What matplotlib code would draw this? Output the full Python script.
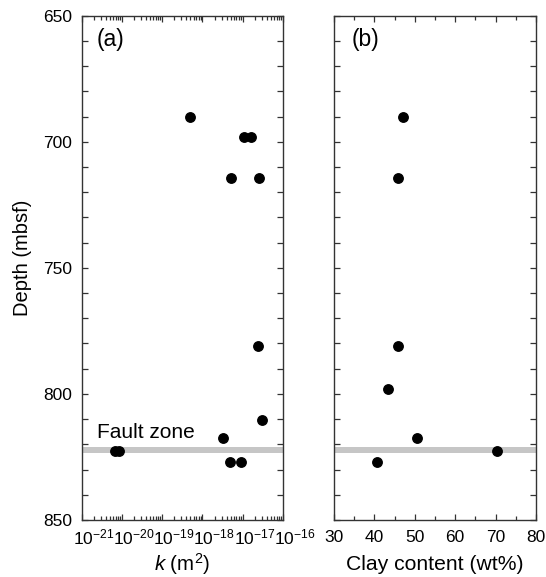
import matplotlib
matplotlib.use("Agg")
import matplotlib.pyplot as plt
from matplotlib.ticker import MultipleLocator, LogLocator, NullFormatter, FixedLocator, FixedFormatter
from matplotlib.transforms import ScaledTranslation

plt.rcParams['font.family'] = ['Liberation Sans', 'DejaVu Sans']
plt.rcParams['mathtext.fontset'] = 'custom'
plt.rcParams['mathtext.rm'] = 'Liberation Sans'
plt.rcParams['mathtext.it'] = 'Liberation Sans:italic'
plt.rcParams['mathtext.bf'] = 'Liberation Sans:bold'

# Panel (a): permeability vs depth
k_values = [5e-19, 1.05e-17, 1.65e-17, 5e-18, 2.5e-17, 2.35e-17, 2.95e-17,
            3.2e-18, 6.7e-21, 8.4e-21, 4.8e-18, 9.1e-18]
k_depth = [690, 698, 698, 714.5, 714.5, 781, 810.5, 817.5, 822.5, 822.5, 827, 827]

# Panel (b): clay content vs depth
clay_values = [47.0, 45.8, 45.8, 43.4, 50.5, 70.3, 40.6]
clay_depth = [690, 714.5, 781, 798, 817.5, 822.5, 827]

fault_zone = (820.9, 823.5)
depth_ticks = [650, 700, 750, 800, 850]
k_ticks = [1e-21, 1e-20, 1e-19, 1e-18, 1e-17, 1e-16]
k_tick_labels = [r'$\mathregular{10^{-21}}$', r'$\mathregular{10^{-20}}$',
                 r'$\mathregular{10^{-19}}$', r'$\mathregular{10^{-18}}$',
                 r'$\mathregular{10^{-17}}$', r'$\mathregular{10^{-16}}$']

fig = plt.figure(figsize=(5.46, 5.77), dpi=100)
axa = fig.add_axes([0.1496, 0.0988, 0.3687, 0.874])
axb = fig.add_axes([0.6117, 0.0988, 0.370, 0.874])

spine_col = '#333333'
for ax in (axa, axb):
    ax.set_ylim(850, 650)
    ax.yaxis.set_major_locator(MultipleLocator(50))
    ax.yaxis.set_minor_locator(MultipleLocator(10))
    ax.axhspan(fault_zone[0], fault_zone[1], color='#c6c6c6', lw=0, zorder=1)
    for s in ax.spines.values():
        s.set_color(spine_col)
        s.set_linewidth(1.0)
    ax.tick_params(which='both', direction='in', top=True, right=True,
                   color=spine_col, labelsize=12.5, width=0.9)
    ax.tick_params(which='major', length=4.5)
    ax.tick_params(which='minor', length=3.0)
    ax.tick_params(axis='y', which='minor', length=4.0)
    ax.tick_params(axis='y', which='major', length=4.0, pad=7)

axa.tick_params(axis='x', pad=5.5)
axb.tick_params(axis='x', pad=7)

# Panel (a)
axa.set_xscale('log')
axa.set_xlim(1e-21, 1e-16)
axa.xaxis.set_major_locator(FixedLocator(k_ticks))
axa.xaxis.set_major_formatter(FixedFormatter(k_tick_labels))
axa.xaxis.set_minor_locator(LogLocator(base=10, subs=range(2, 10), numticks=10))
axa.xaxis.set_minor_formatter(NullFormatter())
axa.plot(k_values, k_depth, 'o', color='black', ms=6.8, zorder=3, clip_on=False)
axa.set_yticks(depth_ticks)
axa.set_ylabel('Depth (mbsf)', fontsize=14.5)
axa.yaxis.set_label_coords(-0.245, 0.52)
axa.set_xlabel(r'$k$ (m$^2$)', fontsize=14.8, va='baseline')
axa.xaxis.set_label_coords(0.5, -0.100)
axa.text(0.075, 0.952, '(a)', transform=axa.transAxes, fontsize=16.5,
         ha='left', va='center')
axa.text(0.075, 817.5, 'Fault zone', transform=axa.get_yaxis_transform(),
         fontsize=15, ha='left', va='baseline')

fig.canvas.draw()
shift = ScaledTranslation(-9 / 100, 0, fig.dpi_scale_trans)
for lbl in axa.get_xticklabels():
    lbl.set_horizontalalignment('left')
    lbl.set_transform(lbl.get_transform() + shift)

# Panel (b)
axb.set_xlim(30, 80)
axb.xaxis.set_major_locator(MultipleLocator(10))
axb.xaxis.set_minor_locator(MultipleLocator(5))
axb.plot(clay_values, clay_depth, 'o', color='black', ms=6.8, zorder=3, clip_on=False)
axb.tick_params(axis='y', labelleft=False)
axb.set_xlabel('Clay content (wt%)', fontsize=15.2, va='baseline')
axb.xaxis.set_label_coords(0.5, -0.100)
axb.text(0.085, 0.952, '(b)', transform=axb.transAxes, fontsize=16.5,
         ha='left', va='center')

fig.savefig('out.png', dpi=100)
